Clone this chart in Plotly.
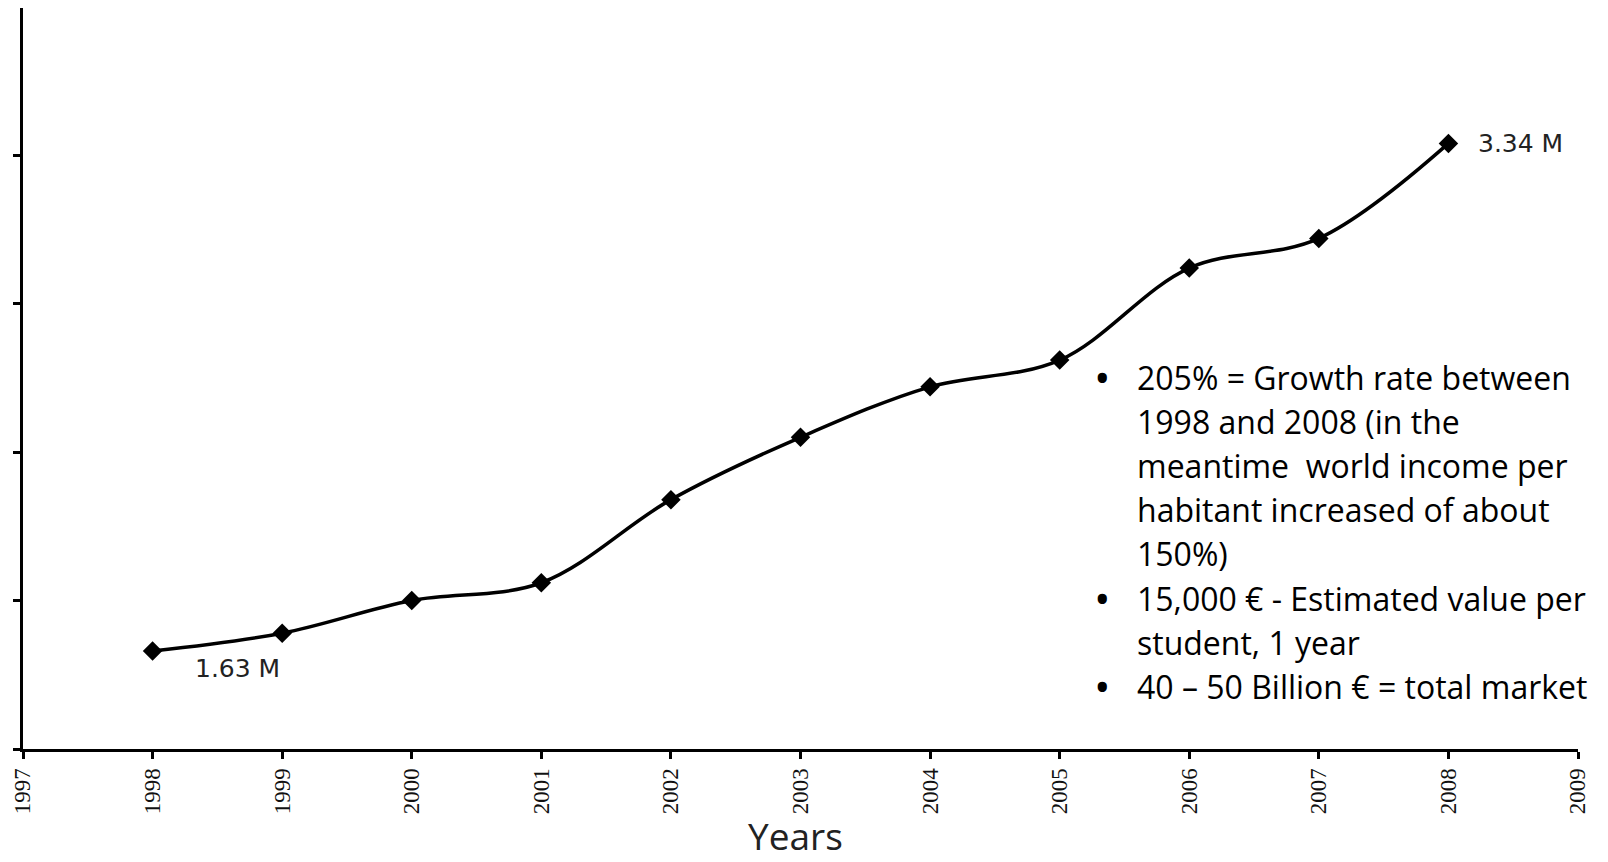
import plotly.graph_objects as go

# Students (millions) per year
years = [1998, 1999, 2000, 2001, 2002, 2003, 2004, 2005, 2006, 2007, 2008]
students_m = [1.63, 1.69, 1.80, 1.86, 2.14, 2.35, 2.52, 2.61, 2.92, 3.02, 3.34]

x_ticks = list(range(1997, 2010))
label_first = "1.63 M"
label_last = "3.34 M"

bullet_lines = [
    ("•", "205% = Growth rate between"),
    ("", "1998 and 2008 (in the"),
    ("", "meantime  world income per"),
    ("", "habitant increased of about"),
    ("", "150%)"),
    ("•", "15,000 € - Estimated value per"),
    ("", "student, 1 year"),
    ("•", "40 – 50 Billion € = total market"),
]

W, H = 1608, 862
M_L, M_R, M_T, M_B = 23, 30, 8, 113
PLOT_W = W - M_L - M_R
PLOT_H = H - M_T - M_B


def px_x(px):
    return (px - M_L) / PLOT_W


def px_y(py):
    return (H - M_B - py) / PLOT_H


fig = go.Figure()
fig.add_trace(go.Scatter(
    x=years, y=students_m,
    mode="lines+markers",
    line=dict(color="black", width=3.5, shape="spline", smoothing=1.0),
    marker=dict(symbol="diamond", size=15, color="black"),
    hoverinfo="skip",
    showlegend=False,
))

annotations = [
    dict(x=years[0], y=students_m[0], xref="x", yref="y", text=label_first,
         showarrow=False, xanchor="left", yanchor="middle", xshift=40, yshift=-17,
         font=dict(family="DejaVu Sans", size=25, color="#222")),
    dict(x=years[-1], y=students_m[-1], xref="x", yref="y", text=label_last,
         showarrow=False, xanchor="left", yanchor="middle", xshift=28, yshift=0,
         font=dict(family="DejaVu Sans", size=25, color="#222")),
    dict(x=px_x(795), y=px_y(862), xref="paper", yref="paper", text="Years",
         showarrow=False, xanchor="center", yanchor="bottom", borderpad=0,
         font=dict(family="Open Sans", size=37, color="#222")),
]

line_top = 377
line_step = 44.2
for i, (bullet, text) in enumerate(bullet_lines):
    yc = px_y(line_top + i * line_step)
    if bullet:
        annotations.append(dict(
            x=px_x(1102), y=yc, xref="paper", yref="paper", text=bullet,
            showarrow=False, xanchor="center", yanchor="middle",
            font=dict(family="Open Sans", size=44, color="black")))
    annotations.append(dict(
        x=px_x(1135), y=yc, xref="paper", yref="paper", text=text,
        showarrow=False, xanchor="left", yanchor="middle",
        font=dict(family="Open Sans", size=32, color="black")))

fig.update_layout(
    width=W, height=H,
    margin=dict(l=M_L, r=M_R, t=M_T, b=M_B),
    paper_bgcolor="white", plot_bgcolor="white",
    annotations=annotations,
    xaxis=dict(
        range=[1997, 2009], tickvals=x_ticks, ticktext=[str(v) for v in x_ticks],
        tickangle=-90, showgrid=False, zeroline=False,
        showline=True, linecolor="black", linewidth=3,
        ticks="outside", ticklen=7, tickwidth=3, tickcolor="black",
        tickfont=dict(family="Liberation Sans Narrow", size=23, color="#111"),
    ),
    yaxis=dict(
        range=[1.3, 3.796], tick0=1.3, dtick=0.5, showticklabels=False,
        showgrid=False, zeroline=False,
        showline=True, linecolor="black", linewidth=3,
        ticks="outside", ticklen=7, tickwidth=3, tickcolor="black",
    ),
)

fig.write_html("out.html")
